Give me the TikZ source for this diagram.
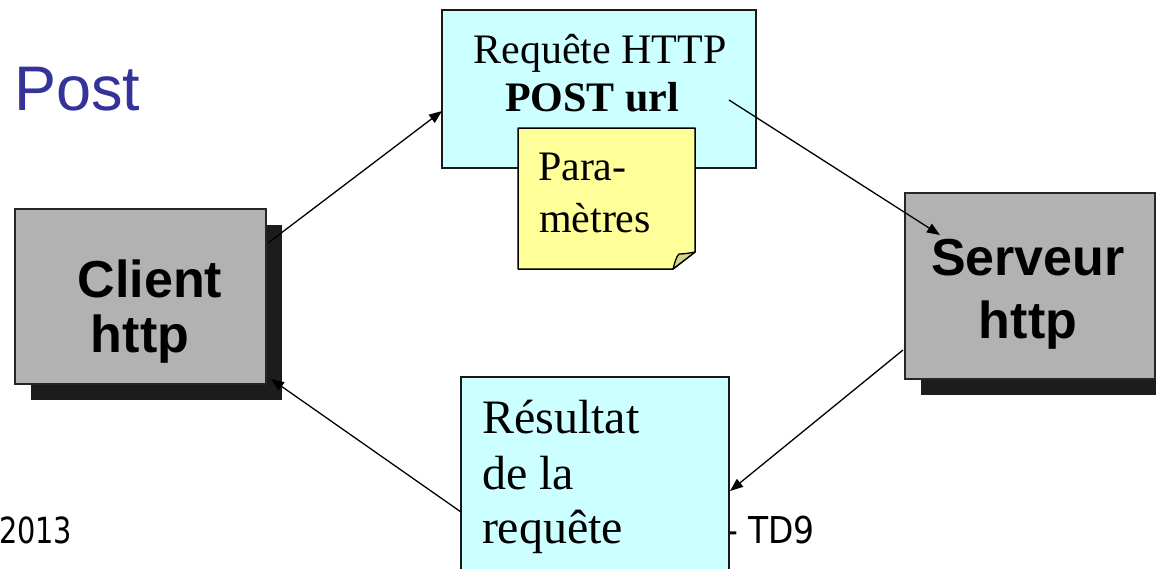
\documentclass[tikz,border=0pt]{standalone}
\usepackage{fontspec}
\setmainfont{Liberation Serif}
\newfontfamily\arialf{Liberation Sans}
\newfontfamily\footf[FakeStretch=0.89]{DejaVu Sans}
\newfontfamily\yearf[FakeStretch=0.8]{DejaVu Sans}
\usetikzlibrary{arrows.meta}
\definecolor{boxgray}{HTML}{B2B2B2}
\definecolor{shade}{HTML}{1C1C1C}
\definecolor{paleCyan}{HTML}{CCFFFF}
\definecolor{noteYellow}{HTML}{FFFF99}
\definecolor{noteFold}{HTML}{D4D48A}
\definecolor{titleBlue}{HTML}{333399}
\begin{document}
\begin{tikzpicture}[x=1pt,y=-1pt,
  every node/.style={inner sep=0pt, outer sep=0pt},
  panel/.style={draw=black!85, line width=1.5pt, fill=boxgray, anchor=north west},
  shadowbox/.style={fill=shade, anchor=north west},
  msgbox/.style={draw=black!90, line width=1.5pt, fill=paleCyan, anchor=north west},
  bigsans/.style={anchor=base, font=\arialf\bfseries\fontsize{52}{60}\selectfont},
  serif/.style={font=\fontsize{42}{50}\selectfont},
  serifbig/.style={anchor=base west, font=\fontsize{48}{55}\selectfont},
  foot/.style={font=\footf\fontsize{37}{44}\selectfont},
  link/.style={line width=1.3pt, -{Triangle[length=13pt,width=10pt]}}]
\useasboundingbox (0,0) rectangle (1156,568);

% slide title
\node[anchor=base west, text=titleBlue, font=\arialf\fontsize{63}{72}\selectfont] (title) at (14,110) {Post};

% footer, partly hidden behind the result box
\node[anchor=base west, font=\yearf\fontsize{36}{44}\selectfont] (year) at (-1,543) {2013};
\node[foot, anchor=base west] (td) at (726,543) {- TD9};

% client
\node[shadowbox, minimum width=251pt, minimum height=175pt] (clientshadow) at (31,225) {};
\node[panel, minimum width=251pt, minimum height=175pt] (client) at (15,209) {};
\node[bigsans] (clientA) at (150,297) {Client};
\node[bigsans] (clientB) at (140,352) {http};

% server
\node[shadowbox, minimum width=250pt, minimum height=186pt] (servershadow) at (921,209) {};
\node[panel, minimum width=250pt, minimum height=186pt] (server) at (905,193) {};
\node[bigsans] (serverA) at (1028,275) {Serveur};
\node[bigsans] (serverB) at (1028,338) {http};

% request box
\node[msgbox, minimum width=314pt, minimum height=158pt] (req) at (442,10) {};
\node[serif, anchor=base] (reqA) at (600,63) {Requête HTTP};
\node[serif, anchor=base] (reqB) at (592,111) {\bfseries POST url};

% sticky note with a folded corner
\coordinate (nA) at (518,128);
\coordinate (nB) at (695,128);
\coordinate (nC) at (695,252);
\coordinate (nD) at (673,269);
\coordinate (nE) at (518,269);
\draw[line width=1.5pt, fill=noteYellow, line join=round] (nA) -- (nB) -- (nC) -- (nD) -- (nE) -- cycle;
\draw[line width=1.3pt, fill=noteFold, line join=round]
  (nD) .. controls (675,262) and (676,257) .. (679,254)
  .. controls (684,254) and (690,253) .. (nC) -- cycle;
\node[serif, anchor=base west] (noteA) at (538,180) {Para-};
\node[serif, anchor=base west] (noteB) at (539,232) {mètres};

% result box
\node[msgbox, minimum width=268pt, minimum height=240pt] (result) at (461,377) {};
\node[serifbig] (resA) at (482,433) {Résultat};
\node[serifbig] (resB) at (482,489) {de la};
\node[serifbig] (resC) at (482,543) {requête};

% exchanges
\draw[link] ([xshift=2pt,yshift=-34pt]client.north east) -- ([yshift=-22pt]req.west);
\draw[link] ([xshift=-27pt,yshift=-11pt]req.east) -- ([xshift=35pt,yshift=-42pt]server.north west);
\draw[link] ([xshift=-2pt,yshift=29pt]server.south west) -- ([xshift=1pt,yshift=-114pt]result.north east);
\draw[link] ([yshift=-135pt]result.north west) -- ([xshift=5pt,yshift=5pt]client.south east);
\end{tikzpicture}
\end{document}
